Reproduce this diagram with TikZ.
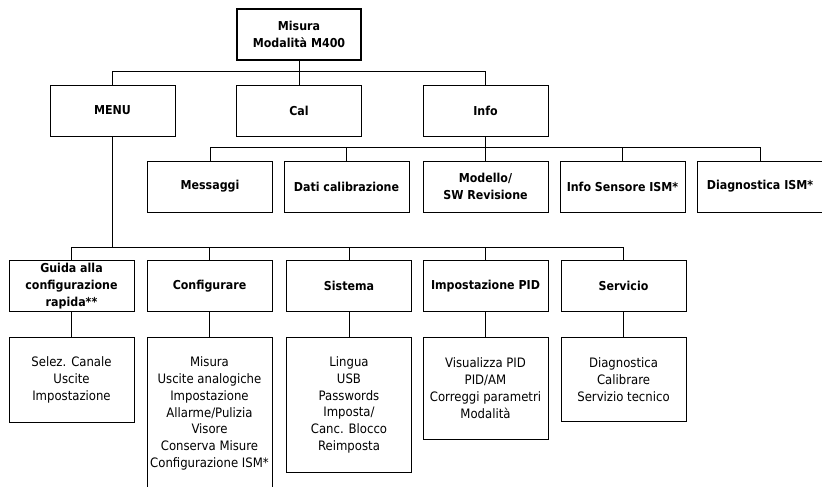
\documentclass[tikz,border=0pt]{standalone}
\usepackage{fontspec}
\setmainfont{DejaVu Sans Condensed}
\begin{document}
\begin{tikzpicture}[x=1pt, y=-1pt, line width=0.9pt,
    menubox/.style={draw, minimum width=125pt, minimum height=51pt,
        inner sep=1pt, align=center, font=\bfseries\fontsize{12.3}{17}\selectfont},
    listbox/.style={draw, anchor=north, minimum width=125pt,
        inner sep=1pt, align=center, font=\fontsize{13}{16.9}\selectfont}]
    \useasboundingbox (0,0) rectangle (822,487);
    % top of the tree
    \node[menubox, line width=2.6pt, minimum width=124pt] (misura) at (299,34.5)
        {Misura\\Modalità M400};
    \node[menubox] (menu) at (112.5,110.5) {MENU};
    \node[menubox] (cal)  at (299,110.5)   {Cal};
    \node[menubox] (info) at (485.5,110.5) {Info};
    \draw (menu.north) -- ++(0,-13) -| (info.north);
    \draw (misura.south) -- (cal.north);
    % info branch
    \node[menubox] (msg)   at (210,186.5)   {Messaggi};
    \node[menubox] (dati)  at (346.5,186.5) {Dati calibrazione};
    \node[menubox] (model) at (485.5,186.5) {Modello/\\SW Revisione};
    \node[menubox] (ism)   at (622.5,186.5) {Info Sensore ISM*};
    \node[menubox] (diag)  at (760,186.5)   {Diagnostica ISM*};
    \draw (msg.north) -- ++(0,-13) -| (diag.north);
    \draw (info.south) -- (model.north);
    \foreach \n in {dati,ism}
        \draw (\n.north) -- ++(0,-13);
    % menu branch
    \node[menubox] (guida)  at (71.5,286)  {Guida alla\\configurazione\\rapida**};
    \node[menubox] (config) at (209.5,286) {Configurare};
    \node[menubox] (sist)   at (349,286)   {Sistema};
    \node[menubox] (pid)    at (485.5,286) {Impostazione PID};
    \node[menubox] (serv)   at (623.5,286) {Servicio};
    \draw (guida.north) -- ++(0,-12.5) -| (serv.north);
    \draw (menu.south) -- ++(0,112);
    \foreach \n in {config,sist,pid}
        \draw (\n.north) -- ++(0,-12.5);
    \node[listbox, minimum height=85pt] (guidalist) at (71.5,337)
        {Selez. Canale\\Uscite\\Impostazione};
    \node[listbox, minimum height=152pt] (configlist) at (209.5,337)
        {Misura\\Uscite analogiche\\Impostazione\\Allarme/Pulizia\\Visore\\Conserva Misure\\Configurazione ISM*};
    \node[listbox, minimum height=135pt] (sistlist) at (349,337)
        {Lingua\\USB\\Passwords\\Imposta/\\Canc. Blocco\\Reimposta};
    \node[listbox, minimum height=102pt] (pidlist) at (485.5,337)
        {Visualizza PID\\PID/AM\\Correggi parametri\\Modalità};
    \node[listbox, minimum height=84pt] (servlist) at (623.5,337)
        {Diagnostica\\Calibrare\\Servizio tecnico};
    \foreach \n in {guida,config,sist,pid,serv}
        \draw (\n.south) -- (\n list.north);
\end{tikzpicture}
\end{document}
